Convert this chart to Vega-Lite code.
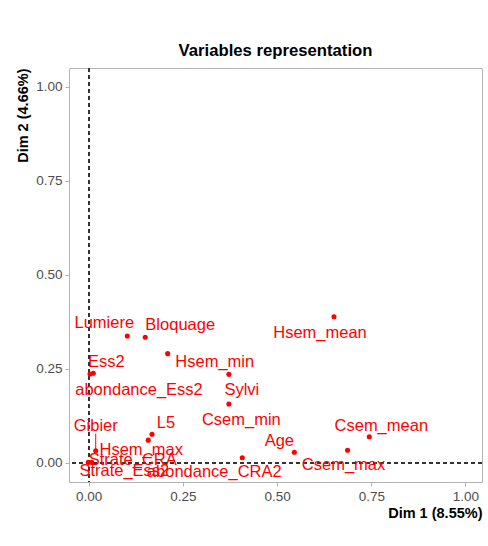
{
  "$schema": "https://vega.github.io/schema/vega-lite/v6.json",
  "autosize": {"type": "none"},
  "padding": {"left": 69, "top": 68, "right": 6, "bottom": 64},
  "width": 413,
  "height": 414,
  "background": "white",
  "title": {
    "text": "Variables representation",
    "font": "Liberation Sans",
    "fontSize": 16.7,
    "fontWeight": "bold",
    "color": "#000000",
    "anchor": "middle",
    "offset": 8
  },
  "data": {
    "values": [
      {"name": "Lumiere", "Dim1": 0.1024, "Dim2": 0.337},
      {"name": "Bloquage", "Dim1": 0.150, "Dim2": 0.3335},
      {"name": "Hsem_min", "Dim1": 0.2097, "Dim2": 0.290},
      {"name": "Ess2", "Dim1": 0.0122, "Dim2": 0.2378},
      {"name": "abondance_Ess2", "Dim1": 0.0035, "Dim2": 0.236},
      {"name": "Sylvi", "Dim1": 0.372, "Dim2": 0.235},
      {"name": "Csem_min", "Dim1": 0.372, "Dim2": 0.156},
      {"name": "L5", "Dim1": 0.168, "Dim2": 0.0755},
      {"name": "Hsem_max", "Dim1": 0.158, "Dim2": 0.060},
      {"name": "Gibier", "Dim1": 0.0186, "Dim2": 0.032},
      {"name": "Strate_CRA", "Dim1": 0.008, "Dim2": 0.001},
      {"name": "Strate_Ess2", "Dim1": -0.001, "Dim2": 0.001},
      {"name": "abondance_CRA2", "Dim1": 0.4076, "Dim2": 0.0133},
      {"name": "Hsem_mean", "Dim1": 0.651, "Dim2": 0.388},
      {"name": "Csem_mean", "Dim1": 0.7447, "Dim2": 0.069},
      {"name": "Csem_max", "Dim1": 0.687, "Dim2": 0.033},
      {"name": "Age", "Dim1": 0.5457, "Dim2": 0.0277}
    ]
  },
  "config": {
    "view": {"stroke": "#B3B3B3", "strokeWidth": 1},
    "axis": {
      "domain": false,
      "gridColor": "#DEDEDE",
      "gridWidth": 1,
      "tickColor": "#B3B3B3",
      "tickSize": 4,
      "tickOpacity": {"condition": {"test": "(datum.value * 4) % 1 != 0", "value": 0}, "value": 1},
      "labelFont": "Liberation Sans",
      "labelFontSize": 13.5,
      "labelColor": "#4D4D4D",
      "labelPadding": 3,
      "labelExpr": "(datum.value * 4) % 1 == 0 ? format(datum.value, '.2f') : ''",
      "titleFont": "Liberation Sans",
      "titleFontSize": 14.5,
      "titleFontWeight": "bold",
      "titleColor": "#000000",
      "titleAnchor": "end"
    },
    "text": {"font": "Liberation Sans", "fontSize": 16.5, "color": "#FF0000", "align": "center", "baseline": "middle"}
  },
  "layer": [
    {
      "mark": {"type": "rule", "color": "#333333", "strokeDash": [4, 3], "strokeWidth": 1},
      "encoding": {"x": {"datum": 0, "type": "quantitative"}}
    },
    {
      "mark": {"type": "rule", "color": "#333333", "strokeDash": [4, 3], "strokeWidth": 1},
      "encoding": {"y": {"datum": 0, "type": "quantitative"}}
    },
    {
      "mark": {"type": "point", "filled": true, "opacity": 1, "size": 26, "color": "#FF0000"},
      "encoding": {
        "x": {
          "field": "Dim1",
          "type": "quantitative",
          "title": "Dim 1 (8.55%)",
          "scale": {"domain": [-0.0523, 1.0438], "nice": false, "zero": false},
          "axis": {"values": [0, 0.125, 0.25, 0.375, 0.5, 0.625, 0.75, 0.875, 1], "titlePadding": 4}
        },
        "y": {
          "field": "Dim2",
          "type": "quantitative",
          "title": "Dim 2 (4.66%)",
          "scale": {"domain": [-0.0513, 1.0497], "nice": false, "zero": false},
          "axis": {"values": [0, 0.125, 0.25, 0.375, 0.5, 0.625, 0.75, 0.875, 1], "titlePadding": 5}
        }
      }
    },
    {
      "transform": [{"filter": "datum.name === 'Gibier'"}],
      "mark": {"type": "tick", "orient": "vertical", "size": 17, "thickness": 1, "yOffset": -8.5, "color": "#FF0000", "opacity": 1},
      "encoding": {
        "x": {"field": "Dim1", "type": "quantitative"},
        "y": {"field": "Dim2", "type": "quantitative"}
      }
    },
    {"transform": [{"filter": "datum.name === 'Lumiere'"}], "mark": {"type": "text", "dx": -23, "dy": -13}, "encoding": {"x": {"field": "Dim1", "type": "quantitative"}, "y": {"field": "Dim2", "type": "quantitative"}, "text": {"field": "name"}}},
    {"transform": [{"filter": "datum.name === 'Bloquage'"}], "mark": {"type": "text", "dx": 35, "dy": -12}, "encoding": {"x": {"field": "Dim1", "type": "quantitative"}, "y": {"field": "Dim2", "type": "quantitative"}, "text": {"field": "name"}}},
    {"transform": [{"filter": "datum.name === 'Hsem_min'"}], "mark": {"type": "text", "dx": 47, "dy": 8}, "encoding": {"x": {"field": "Dim1", "type": "quantitative"}, "y": {"field": "Dim2", "type": "quantitative"}, "text": {"field": "name"}}},
    {"transform": [{"filter": "datum.name === 'Ess2'"}], "mark": {"type": "text", "dx": 13, "dy": -11}, "encoding": {"x": {"field": "Dim1", "type": "quantitative"}, "y": {"field": "Dim2", "type": "quantitative"}, "text": {"field": "name"}}},
    {"transform": [{"filter": "datum.name === 'abondance_Ess2'"}], "mark": {"type": "text", "dx": 49, "dy": 16}, "encoding": {"x": {"field": "Dim1", "type": "quantitative"}, "y": {"field": "Dim2", "type": "quantitative"}, "text": {"field": "name"}}},
    {"transform": [{"filter": "datum.name === 'Sylvi'"}], "mark": {"type": "text", "dx": 13, "dy": 16}, "encoding": {"x": {"field": "Dim1", "type": "quantitative"}, "y": {"field": "Dim2", "type": "quantitative"}, "text": {"field": "name"}}},
    {"transform": [{"filter": "datum.name === 'Csem_min'"}], "mark": {"type": "text", "dx": 12.5, "dy": 16}, "encoding": {"x": {"field": "Dim1", "type": "quantitative"}, "y": {"field": "Dim2", "type": "quantitative"}, "text": {"field": "name"}}},
    {"transform": [{"filter": "datum.name === 'L5'"}], "mark": {"type": "text", "dx": 14, "dy": -11}, "encoding": {"x": {"field": "Dim1", "type": "quantitative"}, "y": {"field": "Dim2", "type": "quantitative"}, "text": {"field": "name"}}},
    {"transform": [{"filter": "datum.name === 'Hsem_max'"}], "mark": {"type": "text", "dx": -7, "dy": 10}, "encoding": {"x": {"field": "Dim1", "type": "quantitative"}, "y": {"field": "Dim2", "type": "quantitative"}, "text": {"field": "name"}}},
    {"transform": [{"filter": "datum.name === 'Gibier'"}], "mark": {"type": "text", "dx": 0, "dy": -25}, "encoding": {"x": {"field": "Dim1", "type": "quantitative"}, "y": {"field": "Dim2", "type": "quantitative"}, "text": {"field": "name"}}},
    {"transform": [{"filter": "datum.name === 'Strate_CRA'"}], "mark": {"type": "text", "dx": 41, "dy": -2}, "encoding": {"x": {"field": "Dim1", "type": "quantitative"}, "y": {"field": "Dim2", "type": "quantitative"}, "text": {"field": "name"}}},
    {"transform": [{"filter": "datum.name === 'Strate_Ess2'"}], "mark": {"type": "text", "dx": 36, "dy": 9}, "encoding": {"x": {"field": "Dim1", "type": "quantitative"}, "y": {"field": "Dim2", "type": "quantitative"}, "text": {"field": "name"}}},
    {"transform": [{"filter": "datum.name === 'abondance_CRA2'"}], "mark": {"type": "text", "dx": -28, "dy": 14}, "encoding": {"x": {"field": "Dim1", "type": "quantitative"}, "y": {"field": "Dim2", "type": "quantitative"}, "text": {"field": "name"}}},
    {"transform": [{"filter": "datum.name === 'Hsem_mean'"}], "mark": {"type": "text", "dx": -14, "dy": 16}, "encoding": {"x": {"field": "Dim1", "type": "quantitative"}, "y": {"field": "Dim2", "type": "quantitative"}, "text": {"field": "name"}}},
    {"transform": [{"filter": "datum.name === 'Csem_mean'"}], "mark": {"type": "text", "dx": 12, "dy": -11}, "encoding": {"x": {"field": "Dim1", "type": "quantitative"}, "y": {"field": "Dim2", "type": "quantitative"}, "text": {"field": "name"}}},
    {"transform": [{"filter": "datum.name === 'Csem_max'"}], "mark": {"type": "text", "dx": -4, "dy": 15}, "encoding": {"x": {"field": "Dim1", "type": "quantitative"}, "y": {"field": "Dim2", "type": "quantitative"}, "text": {"field": "name"}}},
    {"transform": [{"filter": "datum.name === 'Age'"}], "mark": {"type": "text", "dx": -15, "dy": -11}, "encoding": {"x": {"field": "Dim1", "type": "quantitative"}, "y": {"field": "Dim2", "type": "quantitative"}, "text": {"field": "name"}}}
  ]
}
